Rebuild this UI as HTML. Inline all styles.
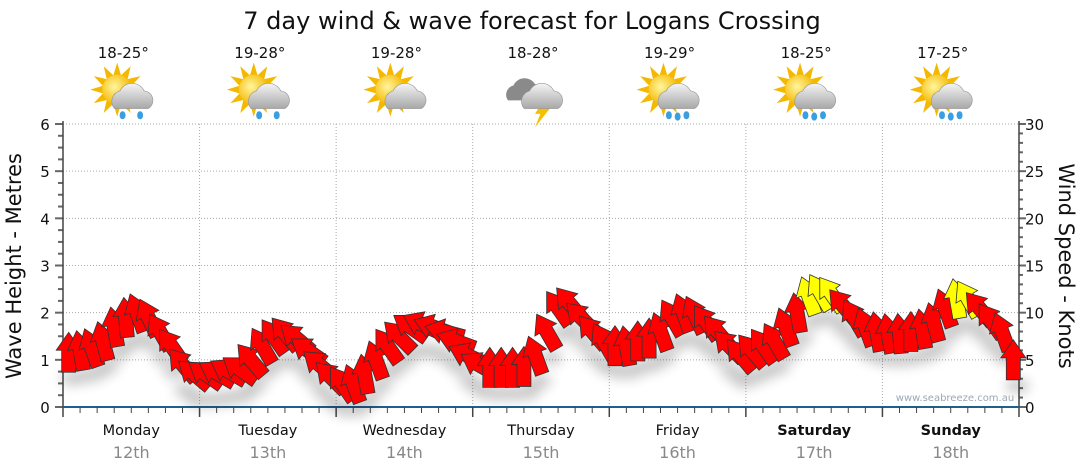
<!DOCTYPE html>
<html><head><meta charset="utf-8">
<style>
body{margin:0;background:#fff;}
svg{display:block;font-family:"DejaVu Sans","Liberation Sans",sans-serif;}
</style></head>
<body>
<svg id="chart" width="1080" height="475" viewBox="0 0 1080 475">
<defs>
<filter id="sh" x="-50%" y="-50%" width="200%" height="200%"><feGaussianBlur stdDeviation="6"/></filter>
<radialGradient id="sun" cx="0.4" cy="0.4" r="0.6"><stop offset="0" stop-color="#fff6a0"/><stop offset="1" stop-color="#f5b800"/></radialGradient>
<linearGradient id="cl" x1="0" y1="0" x2="0" y2="1"><stop offset="0" stop-color="#f4f4f4"/><stop offset="1" stop-color="#a8a8a8"/></linearGradient>
</defs>
<text x="532" y="29" text-anchor="middle" font-size="24" fill="#111">7 day wind &amp; wave forecast for Logans Crossing</text>
<g id="grid"></g>
<g id="axes"></g>
<g id="icons"></g>
<g id="shadow" filter="url(#sh)" opacity="0.22"></g>
<g id="arrows"></g>
<text x="955" y="401" text-anchor="middle" font-size="10" fill="#9aa8b8">www.seabreeze.com.au</text>
<text transform="translate(21,266) rotate(-90)" text-anchor="middle" font-size="21" fill="#111">Wave Height - Metres</text>
<text transform="translate(1059,266) rotate(90)" text-anchor="middle" font-size="21" fill="#111">Wind Speed - Knots</text>
</svg>
<script>
const days=["Monday","Tuesday","Wednesday","Thursday","Friday","Saturday","Sunday"];
const dates=["12th","13th","14th","15th","16th","17th","18th"];
const temps=["18-25°","19-28°","19-28°","18-28°","19-29°","18-25°","17-25°"];
const icons=["rain","rain","cloud","storm","rain","rain","rain"];
const waveTicks=[0,1,2,3,4,5,6];
const windTicks=[0,5,10,15,20,25,30];
// wind speed (knots), 2-hourly from 01:00 Monday
const windSpeed=[
5.8,6,6.3,7,8.5,9.5,10,9.5,8,6.5,4.5,3.5,
3.5,3.6,3.8,4,5,6.5,7.5,7.8,7.3,6,4.5,3.2,
2.5,2.5,3.5,5,6.5,7.5,8.5,8.8,8.5,8,7,5.5,
4.5,4.2,4.2,4.2,4.3,5.5,8,10.5,11,9.5,8,7,
6.5,6.5,7,7.3,8,9.5,10,9.8,9,8,6.5,5.5,
6,6.5,7,8.5,10,11.8,12.2,12,10.8,9.5,8.5,8,
7.8,7.8,8,8.3,9,10.5,11.5,11.5,10.5,9.2,8,5];
// wind arrow direction (deg clockwise from up)
const windDir=[
0,-10,-20,-15,-10,-5,-20,-25,-30,-35,-40,-50,
-55,-60,-60,-55,-40,-30,-35,-40,-50,-55,-50,-45,
-35,-20,-10,-20,-35,-45,-55,-65,-70,-75,-70,-65,
-60,0,0,0,0,-20,-30,-35,-40,-45,-40,-30,
0,-10,0,0,-20,-30,-20,-25,-35,-40,-45,-40,
-40,-35,-30,-20,-10,-20,-30,-35,-40,-30,-20,-10,
-10,-5,0,-10,-15,-20,-10,-30,-40,-35,-20,0];

const NS="http://www.w3.org/2000/svg";
const X0=63,X1=1019,Y0=407,Y6=124;
const dayW=(X1-X0)/7;
const xHour=h=>X0+h/24*dayW;
const yWave=v=>Y0-(Y0-Y6)*v/6;
const yWind=v=>Y0-(Y0-Y6)*v/30;
function mk(tag,attrs,parent){const e=document.createElementNS(NS,tag);for(const k in attrs)e.setAttribute(k,attrs[k]);parent.appendChild(e);return e;}
const grid=document.getElementById('grid'),axes=document.getElementById('axes');
waveTicks.forEach(t=>{
  if(t>0){const l=mk('line',{x1:X0,x2:X1,y1:yWave(t),y2:yWave(t),stroke:'#aaa','stroke-dasharray':'1,2'},grid);
  
  }
  const tx=mk('text',{x:45,y:yWave(t)+6,'text-anchor':'middle','font-size':15,fill:'#111'},axes);tx.textContent=t;
  
  
});
for(let i=0;i<=24;i++){const y=Y0-(Y0-Y6)*i/24;mk('line',{x1:i%4?58:55,x2:63,y1:y,y2:y,stroke:'#666','stroke-width':2},axes);}
windTicks.forEach(t=>{
  const tx=mk('text',{x:1025,y:yWind(t)+6,'font-size':15,fill:'#111'},axes);tx.textContent=t;
  
  
});
for(let i=0;i<=30;i++){const y=yWind(i);mk('line',{x1:1019,x2:i%5?1023:1026,y1:y,y2:y,stroke:'#666','stroke-width':2},axes);}
mk('line',{x1:X0,x2:X0,y1:Y6-3,y2:Y0+10,stroke:'#444','stroke-width':1.5},axes);
mk('line',{x1:X1,x2:X1,y1:Y6-3,y2:Y0+10,stroke:'#444','stroke-width':1.5},axes);
mk('line',{x1:X0,x2:X1,y1:Y0,y2:Y0,stroke:'#1f5f8f','stroke-width':2},axes);
for(let d=0;d<7;d++){
  const x=X0+d*dayW,cx=x+dayW/2;
  if(d>0){const l=mk('line',{x1:x,x2:x,y1:Y6,y2:Y0,stroke:'#aaa','stroke-dasharray':'1,2'},grid);
  
  
  mk('line',{x1:x,x2:x,y1:Y0,y2:Y0+10,stroke:'#444','stroke-width':1.5},axes);}
  for(let k=1;k<8;k++){const tx=x+k*dayW/8;mk('line',{x1:tx,x2:tx,y1:Y0,y2:Y0+6,stroke:'#444'},axes);}
  const dl=mk('text',{x:cx,y:435,'text-anchor':'middle','font-size':14.5,fill:'#111','font-weight':d>=5?'bold':'normal'},axes);dl.textContent=days[d];
  
  
  const dt=mk('text',{x:cx,y:458,'text-anchor':'middle','font-size':16,fill:'#888'},axes);dt.textContent=dates[d];
  
  
  const tt=mk('text',{x:cx-8,y:58,'text-anchor':'middle','font-size':15,fill:'#111'},document.getElementById('icons'));tt.textContent=temps[d];
  
  
  const g=mk('g',{transform:`translate(${cx-6},95) scale(1.35)`},document.getElementById('icons'));
  
  
  if(icons[d]!=='storm'){
    for(let r=0;r<12;r++){const a=r*30;mk('polygon',{points:'-3,-10 3,-10 0,-20',fill:'#f5b800',transform:`translate(-6,-4) rotate(${a})`},g);}
    mk('circle',{cx:-6,cy:-4,r:11,fill:'url(#sun)'},g);
  }
  if(icons[d]==='storm'){
    mk('path',{d:'M-20 4 a7 7 0 0 1 4-11 a9 9 0 0 1 16 -1 a6 6 0 0 1 3 12 z',fill:'#8a8a8a'},g);
    mk('polygon',{points:'6,4 0,14 4,14 0,24 11,10 7,10 10,4',fill:'#f5c000'},g);
  }
  mk('path',{d:'M-8 10 a8 8 0 0 1 4-13 a10 10 0 0 1 18 0 a7 7 0 0 1 3 13 z',fill:'url(#cl)',stroke:'#999','stroke-width':0.5},g);
  if(icons[d]==='rain'){
    mk('ellipse',{cx:-2,cy:15,rx:2.2,ry:3,fill:'#3a9ee0'},g);
    mk('ellipse',{cx:11,cy:15,rx:2.2,ry:3,fill:'#3a9ee0'},g);
    if(d>=4)mk('ellipse',{cx:4.5,cy:16,rx:2.2,ry:3,fill:'#3a9ee0'},g);
  }
}
const arrowPts='-7,20 7,20 7,-2 12.5,-2 0,-20 -12.5,-2 -7,-2';
const ag=document.getElementById('arrows'),sg=document.getElementById('shadow');
windSpeed.forEach((v,i)=>{
  const x=xHour(1+i*2),y=yWind(v);
  mk('ellipse',{cx:x+4,cy:y+26,rx:12,ry:7,fill:'#000'},sg);
  const p=mk('polygon',{points:arrowPts,fill:v>=11.3?'#ffff00':'#ff0000',stroke:'#333','stroke-width':0.8,transform:`translate(${x},${y}) rotate(${windDir[i]})`},ag);
  
  
});
</script>
</body></html>
